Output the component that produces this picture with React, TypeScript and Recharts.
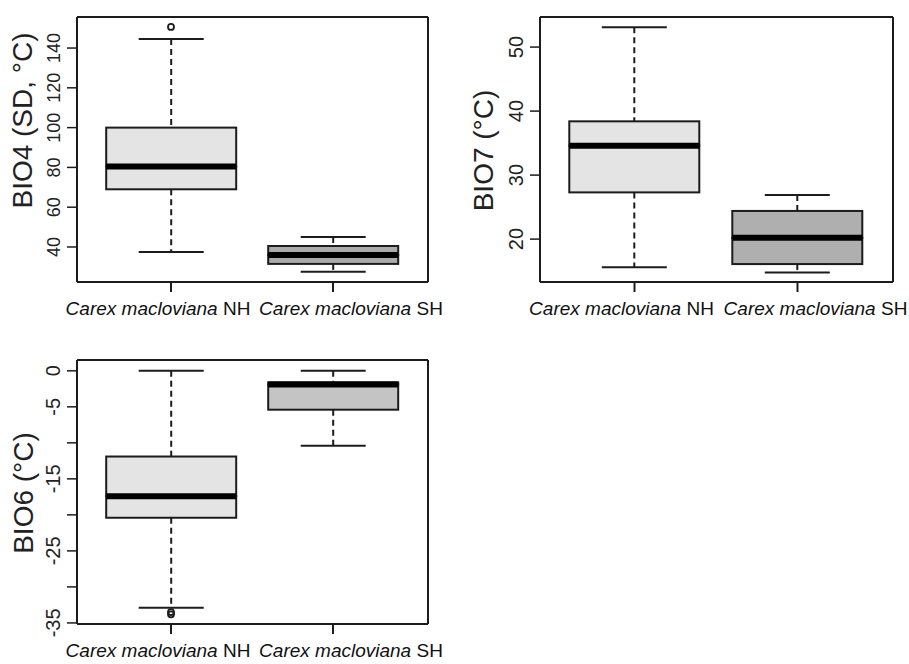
import React from 'react';
import { ComposedChart, Bar, Line, XAxis, YAxis } from 'recharts';

// Box plots of three bioclim variables, Carex macloviana NH vs SH
const groups = ['NH', 'SH'];
const species = 'Carex macloviana';

// BIO4 (SD, °C)
const bio4Min = [37.5, 27.5];
const bio4Q1 = [69, 31.5];
const bio4Median = [80.5, 36];
const bio4Q3 = [100, 40.5];
const bio4Max = [144.5, 45];
const bio4Outliers = [[150.6, null]];
const bio4Ticks = [40, 60, 80, 100, 120, 140];

// BIO7 (°C)
const bio7Min = [15.6, 14.8];
const bio7Q1 = [27.3, 16.1];
const bio7Median = [34.6, 20.2];
const bio7Q3 = [38.4, 24.4];
const bio7Max = [53.1, 26.9];
const bio7Outliers: (number | null)[][] = [];
const bio7Ticks = [20, 30, 40, 50];

// BIO6 (°C)
const bio6Min = [-32.9, -10.4];
const bio6Q1 = [-20.4, -5.4];
const bio6Median = [-17.4, -1.9];
const bio6Q3 = [-11.9, -1.6];
const bio6Max = [0, 0];
const bio6Outliers = [
  [-33.5, null],
  [-33.8, null],
];
const bio6Ticks = [0, -5, -10, -15, -20, -25, -30, -35];
const bio6Labelled = [0, -5, -15, -25, -35];

const INK = '#1c1c1c';
const FONT = '"Liberation Sans", Arial, Helvetica, sans-serif';

function buildRows(min, q1, med, q3, max, outliers) {
  return groups.map((g, i) => {
    const row: any = {
      group: g,
      base: min[i],
      lowWhisker: q1[i] - min[i],
      lowBox: med[i] - q1[i],
      highBox: q3[i] - med[i],
      highWhisker: max[i] - q3[i],
    };
    outliers.forEach((o, k) => {
      row[`out${k}`] = o[i];
    });
    return row;
  });
}

const Whisker = (props: any, upper: boolean) => {
  const { x, y, width, height } = props;
  if (x == null || y == null) return <g />;
  const cx = x + width / 2;
  const capY = upper ? y : y + height;
  return (
    <g>
      <line x1={cx} x2={cx} y1={y} y2={y + height} stroke={INK} strokeWidth={2} strokeDasharray="6 4" />
      <line x1={cx - width / 4} x2={cx + width / 4} y1={capY} y2={capY} stroke={INK} strokeWidth={2} />
    </g>
  );
};

const BoxPart = (props: any, fills: string[], withMedian: boolean) => {
  const { x, y, width, height, index } = props;
  if (x == null || y == null) return <g />;
  return (
    <g>
      <rect x={x} y={y} width={width} height={height} fill={fills[index]} stroke={INK} strokeWidth={2} />
      {withMedian && (
        <line x1={x} x2={x + width} y1={y + height} y2={y + height} stroke="#000" strokeWidth={6} />
      )}
    </g>
  );
};

const Outlier = (props: any) => {
  const { cx, cy, value } = props;
  if (value == null || cy == null || isNaN(cy)) return <g key={props.key} />;
  return <circle key={props.key} cx={cx} cy={cy} r={3} fill="none" stroke={INK} strokeWidth={1.8} />;
};

const YTick = (props: any, labelled: number[] | null, fontSize: number) => {
  const { x, y, payload } = props;
  const v = payload.value;
  const text = !labelled || labelled.includes(v) ? String(v) : '';
  return (
    <text
      x={x}
      y={y}
      dy={-5}
      transform={`rotate(-90 ${x} ${y})`}
      textAnchor="middle"
      fontSize={fontSize}
      fontFamily={FONT}
      fill="#222"
    >
      {text}
    </text>
  );
};

const XTick = (props: any, shifts: number[]) => {
  const { x, y, payload, index } = props;
  return (
    <text x={x + shifts[index]} y={y + 21} textAnchor="middle" fontSize={19} fontFamily={FONT} fill="#111">
      <tspan fontStyle="italic">{species}</tspan>
      <tspan> {payload.value}</tspan>
    </text>
  );
};

interface PanelProps {
  title: string;
  rows: any[];
  outlierCount: number;
  fills: string[];
  domain: [number, number];
  ticks: number[];
  labelled?: number[] | null;
  tickFont?: number;
  width: number;
  height: number;
  margin: { top: number; right: number; bottom: number; left: number };
  axisWidth: number;
  titleX: number;
  titleShift: number;
  padding: { left: number; right: number };
}

function BoxPanel({
  title,
  rows,
  outlierCount,
  fills,
  domain,
  ticks,
  labelled = null,
  tickFont = 20,
  width,
  height,
  margin,
  axisWidth,
  titleX,
  titleShift,
  padding,
}: PanelProps) {
  const frame = { stroke: INK, strokeWidth: 2 };
  const outKeys = Array.from({ length: outlierCount }, (_, k) => `out${k}`);
  // the top x axis and right y axis take 1px each, so the margins give it back
  const m = { ...margin, top: margin.top - 1, right: margin.right - 1 };
  return (
    <ComposedChart width={width} height={height} data={rows} margin={m} barCategoryGap="10%">
      <XAxis
        dataKey="group"
        padding={padding}
        height={40}
        tickSize={10}
        axisLine={frame}
        tickLine={frame}
        tick={(p) => XTick(p, [-13, 18])}
        interval={0}
      />
      <XAxis
        xAxisId="top"
        orientation="top"
        dataKey="group"
        height={1}
        tick={false}
        tickLine={false}
        axisLine={frame}
      />
      <YAxis
        type="number"
        domain={domain}
        allowDataOverflow
        ticks={ticks}
        interval={0}
        width={axisWidth}
        tickSize={10}
        axisLine={frame}
        tickLine={{ stroke: INK, strokeWidth: 1.5 }}
        tick={(p) => YTick(p, labelled, tickFont)}
        label={{
          content: ({ viewBox }: any) => {
            const cx = viewBox.x + titleX;
            const cy = viewBox.y + viewBox.height / 2 + titleShift;
            return (
              <text
                x={cx}
                y={cy}
                transform={`rotate(-90 ${cx} ${cy})`}
                textAnchor="middle"
                fontSize={28}
                fontFamily={FONT}
                fill="#222"
              >
                {title}
              </text>
            );
          },
        }}
      />
      <YAxis
        yAxisId="right"
        orientation="right"
        type="number"
        domain={domain}
        allowDataOverflow
        width={1}
        tick={false}
        tickLine={false}
        axisLine={frame}
      />
      <Bar dataKey="base" stackId="box" shape={() => <g />} isAnimationActive={false} />
      <Bar dataKey="lowWhisker" stackId="box" shape={(p) => Whisker(p, false)} isAnimationActive={false} />
      <Bar dataKey="lowBox" stackId="box" shape={(p) => BoxPart(p, fills, false)} isAnimationActive={false} />
      <Bar dataKey="highBox" stackId="box" shape={(p) => BoxPart(p, fills, true)} isAnimationActive={false} />
      <Bar dataKey="highWhisker" stackId="box" shape={(p) => Whisker(p, true)} isAnimationActive={false} />
      {outKeys.map((k) => (
        <Line
          key={k}
          dataKey={k}
          stroke="none"
          dot={Outlier}
          activeDot={false}
          isAnimationActive={false}
        />
      ))}
    </ComposedChart>
  );
}

export default function App() {
  const bio4Rows = buildRows(bio4Min, bio4Q1, bio4Median, bio4Q3, bio4Max, bio4Outliers);
  const bio7Rows = buildRows(bio7Min, bio7Q1, bio7Median, bio7Q3, bio7Max, bio7Outliers);
  const bio6Rows = buildRows(bio6Min, bio6Q1, bio6Median, bio6Q3, bio6Max, bio6Outliers);

  return (
    <div style={{ position: 'absolute', left: 0, top: 0, width: 909, height: 664, background: '#fff', overflow: 'hidden' }}>
      <div style={{ position: 'absolute', left: 0, top: 0 }}>
        <BoxPanel
          title="BIO4 (SD, °C)"
          rows={bio4Rows}
          outlierCount={bio4Outliers.length}
          fills={['#e4e4e4', '#ababab']}
          domain={[22.4, 155.6]}
          ticks={bio4Ticks}
          tickFont={18}
          width={460}
          height={330}
          margin={{ top: 17, right: 32, bottom: 8, left: 0 }}
          axisWidth={77}
          titleX={32}
          titleShift={-29}
          padding={{ left: 13, right: 14 }}
        />
      </div>
      <div style={{ position: 'absolute', left: 460, top: 0 }}>
        <BoxPanel
          title="BIO7 (°C)"
          rows={bio7Rows}
          outlierCount={bio7Outliers.length}
          fills={['#e4e4e4', '#afafaf']}
          domain={[13.3, 54.7]}
          ticks={bio7Ticks}
          width={449}
          height={330}
          margin={{ top: 17, right: 16, bottom: 8, left: 0 }}
          axisWidth={80}
          titleX={33}
          titleShift={1}
          padding={{ left: 13, right: 14 }}
        />
      </div>
      <div style={{ position: 'absolute', left: 0, top: 330 }}>
        <BoxPanel
          title="BIO6 (°C)"
          rows={bio6Rows}
          outlierCount={bio6Outliers.length}
          fills={['#e4e4e4', '#c4c4c4']}
          domain={[-35.15, 1.5]}
          ticks={bio6Ticks}
          labelled={bio6Labelled}
          width={460}
          height={334}
          margin={{ top: 30, right: 32, bottom: 0, left: 0 }}
          axisWidth={77}
          titleX={33}
          titleShift={1}
          padding={{ left: 13, right: 14 }}
        />
      </div>
    </div>
  );
}
